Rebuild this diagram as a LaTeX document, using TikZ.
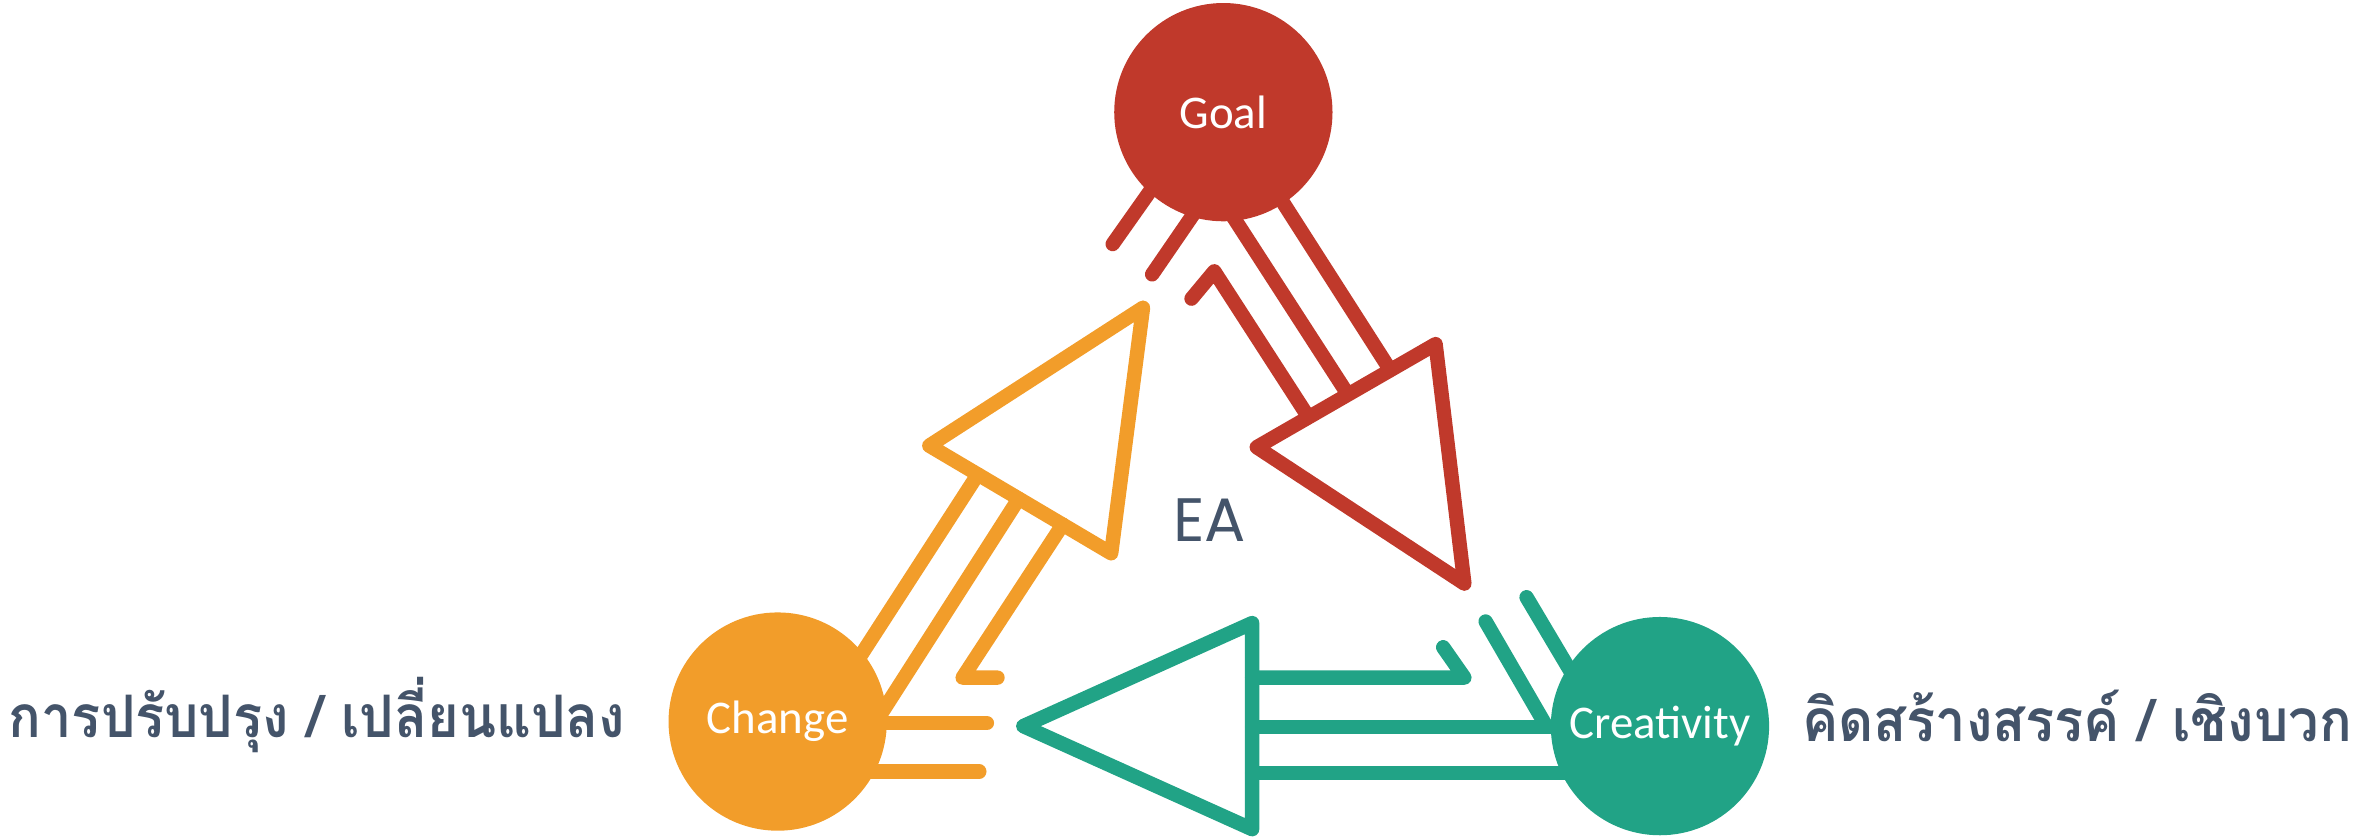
\documentclass[tikz,border=0pt]{standalone}
\usepackage{fontspec}
\setmainfont{Carlito}
\newfontfamily\thaifont[Script=Thai, FakeStretch=0.925]{Loma}
\newfontfamily\eafont{Poppins}
\usetikzlibrary{calc}
\definecolor{goalred}{HTML}{C0392B}
\definecolor{chorange}{HTML}{F29D2A}
\definecolor{crteal}{HTML}{21A386}
\definecolor{slate}{HTML}{44546A}
\begin{document}
\begin{tikzpicture}[x=0.1mm,y=-0.1mm,
  band/.style={line width=0.95mm, line cap=round, line join=round},
  hub/.style={circle, minimum size=14.4mm, inner sep=0pt, text=white,
    font=\fontsize{8.8}{10}\selectfont},
  thai/.style={text=slate, font=\thaifont\bfseries\fontsize{11}{13}\selectfont, inner sep=0pt}]
\useasboundingbox (0,0) rectangle (1568,552);

% red arrow: Goal -> Creativity
\draw[band,goalred] (829,295) -- (947,227) -- (966,385) -- cycle;
\draw[band,goalred] (837,119) -- (917,244);
\draw[band,goalred] (805,130) -- (889,260);
\draw[band,goalred] (786,197) -- (801,179) -- (863,275);
\draw[band,goalred] (734,161) -- (770,110);
\draw[band,goalred] (760,181) -- (795,130);

% orange arrow: Change -> Goal
\draw[band,chorange] (754,203) -- (613,294) -- (733,365) -- cycle;
\draw[band,chorange] (559,446) -- (645,313);
\draw[band,chorange] (576,479) -- (672,329);
\draw[band,chorange] (658,447) -- (635,447) -- (701,346);
\draw[band,chorange] (560,477) -- (651,477);
\draw[band,chorange] (560,509) -- (646,509);

% teal arrow: Creativity -> Change
\draw[band,crteal] (675,479) -- (826,411) -- (826,547) -- cycle;
\draw[band,crteal] (826,447) -- (966,447) -- (952,427);
\draw[band,crteal] (826,479.5) -- (1040,479.5);
\draw[band,crteal] (826,510) -- (1040,510);
\draw[band,crteal] (980,410) -- (1020,479);
\draw[band,crteal] (1007,394) -- (1045,458);

% hubs
\node[hub, fill=goalred] (goal) at (807,74) {Goal};
\node[hub, fill=chorange] (change) at (513,476) {Change};
\node[hub, fill=crteal] (creat) at (1095,479) {Creativity};

\node[text=slate, font=\eafont\fontsize{11.5}{13}\selectfont, inner sep=0pt] (ea) at (798,343) {EA};

\node[thai, anchor=west] (left) at (5,472) {การปรับปรุง / เปลี่ยนแปลง};
\node[thai, anchor=west] (right) at (1188,472) {คิดสร้างสรรค์ / เชิงบวก};
\end{tikzpicture}
\end{document}
